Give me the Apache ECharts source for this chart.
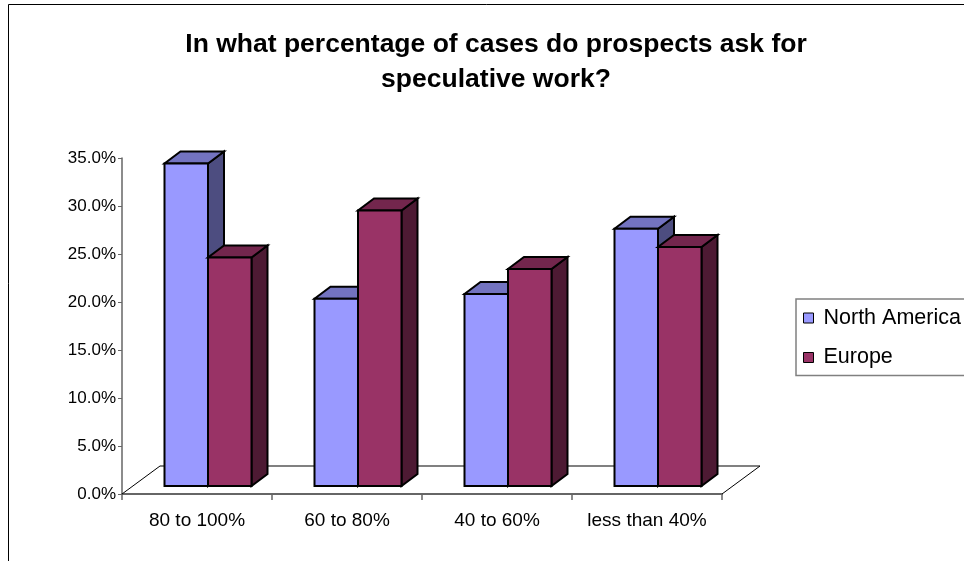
<!DOCTYPE html>
<html>
<head>
<meta charset="utf-8">
<title>Speculative work requests</title>
<script src="https://cdn.jsdelivr.net/npm/echarts@6/dist/echarts.min.js"></script>
<style>
  html, body { margin: 0; padding: 0; background: #fff; }
  #chart { width: 964px; height: 561px; }
</style>
</head>
<body>
<div id="chart"></div>
<script>
// Survey answers: share of respondents per band of cases
const categories = ['80 to 100%', '60 to 80%', '40 to 60%', 'less than 40%'];
const northAmerica = [33.6, 19.5, 20.0, 26.8];
const europe = [23.8, 28.7, 22.6, 24.9];
const yTicks = { min: 0, max: 35, interval: 5 };
const titleText = 'In what percentage of cases do prospects ask for\nspeculative work?';

// Face colours for the pseudo-3D columns: front, top, side
const FACES = {
  'North America': { front: '#9999FF', top: '#7373C0', side: '#4D4D80' },
  'Europe': { front: '#993366', top: '#73264D', side: '#4D1A33' }
};
// -1: left column of the pair, 0: right column
const SLOT = { 'North America': -1, 'Europe': 0 };

// Oblique projection: floor depth and column depth in pixels
const FLOOR_DX = 38, FLOOR_DY = 28;
const COL_DX = 16, COL_DY = 12;
const FRONT_DX = 11, FRONT_DY = 8;   // column front face sits inside the floor
const BAR_FRAC = 0.29;               // column width as a share of the band

function renderFloor(params, api) {
  const cs = params.coordSys;
  const fl = [cs.x, cs.y + cs.height];
  const fr = [cs.x + cs.width, cs.y + cs.height];
  const bl = [fl[0] + FLOOR_DX, fl[1] - FLOOR_DY];
  const br = [fr[0] + FLOOR_DX, fr[1] - FLOOR_DY];
  return {
    type: 'group',
    children: [
      { type: 'line', shape: { x1: bl[0], y1: bl[1], x2: br[0], y2: br[1] },
        style: { stroke: '#808080', lineWidth: 2 } },
      { type: 'line', shape: { x1: fl[0], y1: fl[1], x2: bl[0], y2: bl[1] },
        style: { stroke: '#000', lineWidth: 1 } },
      { type: 'line', shape: { x1: fr[0], y1: fr[1], x2: br[0], y2: br[1] },
        style: { stroke: '#000', lineWidth: 1 } }
    ]
  };
}

function renderColumn(params, api) {
  const cat = api.value(0);
  const v = api.value(1);
  const base = api.coord([cat, 0]);
  const top = api.coord([cat, v]);
  const band = api.size([1, 0])[0];
  const bw = band * BAR_FRAC;
  const cx = base[0] + FRONT_DX;
  const L = cx + SLOT[params.seriesName] * bw;
  const R = L + bw;
  const T = top[1] - FRONT_DY;
  const B = base[1] - FRONT_DY;
  const c = FACES[params.seriesName];
  const edge = { stroke: '#000', lineWidth: 2, lineJoin: 'miter' };
  return {
    type: 'group',
    children: [
      { type: 'polygon', shape: { points: [[R, T], [R + COL_DX, T - COL_DY], [R + COL_DX, B - COL_DY], [R, B]] },
        style: Object.assign({ fill: c.side }, edge) },
      { type: 'polygon', shape: { points: [[L, T], [R, T], [R + COL_DX, T - COL_DY], [L + COL_DX, T - COL_DY]] },
        style: Object.assign({ fill: c.top }, edge) },
      { type: 'rect', shape: { x: L, y: T, width: bw, height: B - T },
        style: Object.assign({ fill: c.front }, edge) }
    ]
  };
}

const toPoints = arr => arr.map((v, i) => [i, v]);
const FONT = '"Liberation Sans", Arial, sans-serif';

const chart = echarts.init(document.getElementById('chart'), null, { renderer: 'canvas' });
chart.setOption({
  backgroundColor: '#fff',
  animation: false,
  title: {
    text: titleText,
    left: 496,
    top: 27,
    padding: 0,
    textAlign: 'center',
    textStyle: { fontFamily: FONT, fontSize: 26.5, fontWeight: 'bold', color: '#000', lineHeight: 35 }
  },
  graphic: [
    { type: 'rect', shape: { x: 8.5, y: 4.5, width: 1000, height: 600 },
      style: { fill: 'none', stroke: '#000', lineWidth: 1 }, z: -1 }
  ],
  legend: {
    orient: 'vertical',
    left: 796,
    top: 299,
    padding: [8, 60, 7, 7],
    borderColor: '#808080',
    borderWidth: 1.5,
    itemGap: 17.5,
    itemWidth: 20,
    itemHeight: 10,
    icon: 'path://M0,0L10,0L10,10L0,10Z',
    textStyle: { fontFamily: FONT, fontSize: 21.5, color: '#000' },
    data: [
      { name: 'North America', itemStyle: { color: FACES['North America'].front, borderColor: '#000', borderWidth: 1 } },
      { name: 'Europe', itemStyle: { color: FACES['Europe'].front, borderColor: '#000', borderWidth: 1 } }
    ]
  },
  grid: { left: 122, top: 158, width: 600, height: 336 },
  xAxis: {
    type: 'category',
    data: categories,
    axisLine: { lineStyle: { color: '#666', width: 2 } },
    axisTick: { show: true, interval: 0, length: 6, lineStyle: { color: '#666', width: 1.5 } },
    axisLabel: { interval: 0, fontFamily: FONT, fontSize: 19, color: '#000', margin: 17 },
    splitLine: { show: false }
  },
  yAxis: {
    type: 'value',
    min: yTicks.min,
    max: yTicks.max,
    interval: yTicks.interval,
    axisLine: { show: true, lineStyle: { color: '#666', width: 1.5 } },
    axisTick: { show: true, length: 4, lineStyle: { color: '#666' } },
    axisLabel: { fontFamily: FONT, fontSize: 17, color: '#000', margin: 6,
      formatter: v => v.toFixed(1) + '%' },
    splitLine: { show: false }
  },
  series: [
    { type: 'custom', name: 'floor', renderItem: renderFloor, data: [[0, 0]], z: 1, silent: true },
    { type: 'custom', name: 'North America', renderItem: renderColumn, data: toPoints(northAmerica), z: 2,
      encode: { x: 0, y: 1 } },
    { type: 'custom', name: 'Europe', renderItem: renderColumn, data: toPoints(europe), z: 2,
      encode: { x: 0, y: 1 } }
  ]
});
</script>
</body>
</html>
